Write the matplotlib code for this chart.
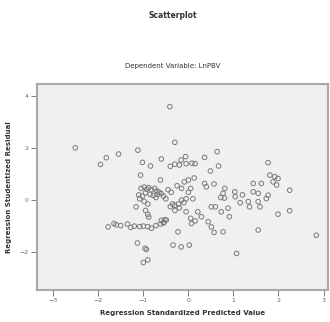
import numpy as np
import matplotlib
matplotlib.use("Agg")
import matplotlib.pyplot as plt

# regression standardized predicted value / studentized residual
pred = [-2.51, -1.95, -1.82, -1.55, -1.12, -1.02, -0.84, -0.60, -1.06, -0.62, -0.41,
        -1.05, -0.98, -0.92, -0.88, -0.82, -0.75, -0.70, -0.65, -0.60, -1.10, -1.02,
        -0.95, -0.85, -0.78, -0.72, -0.68, -0.55, -0.50, -1.08, -0.98, -0.90,
        -1.16, -0.90, -0.88, -0.95,
        -1.78, -1.65, -1.60, -1.50, -1.35, -1.28, -1.20, -1.08, -1.00, -0.90, -0.82,
        -0.72, -0.62, -0.55, -0.60, -0.52,
        -1.13, -0.96, -0.93, -1.00, -0.90,
        -0.30, -0.06, -0.16, -0.40, -0.30, -0.20, -0.05, 0.08, 0.15, 0.36, 0.64, 0.67, 0.49,
        0.13, 0.00, -0.09, 0.36, 0.40, 0.57, 0.81, 0.77, 1.03, 1.04, 0.80, 0.72,
        0.73, 0.88, 0.91, 0.51, 0.60, 0.21, 0.29, 0.44, 0.51, 0.57, 0.77,
        0.10, -0.05, -0.15, -0.10, -0.22, -0.30, -0.35, -0.40, -0.20, -0.30,
        -0.49, -0.55, 0.07, 0.05, 0.15, -0.23, -0.34, -0.16, 0.02, 1.07, 1.55,
        -0.45, -0.38, -0.25, -0.15, 0.00, 0.05, -0.05,
        1.44, 1.62, 1.44, 1.55, 1.33, 1.36, 1.55, 1.59, 1.73, 1.77, 1.77, 1.81, 1.92,
        1.99, 1.88, 1.96, 2.25, 2.25, 1.99, 2.84, 1.20, 1.15]
resid = [2.01, 1.37, 1.63, 1.77, 1.92, 1.45, 1.31, 1.58, 0.96, 0.77, 3.59,
         0.45, 0.50, 0.42, 0.48, 0.40, 0.45, 0.35, 0.30, 0.25, 0.20, 0.15,
         0.28, 0.22, 0.18, 0.10, 0.22, 0.15, 0.05, 0.05, -0.05, -0.15,
         -0.26, -0.55, -0.65, -0.40,
         -1.03, -0.90, -0.95, -0.98, -0.92, -1.05, -1.00, -1.02, -1.00, -1.02, -1.08,
         -0.98, -0.92, -0.88, -0.78, -0.75,
         -1.65, -1.85, -1.90, -2.40, -2.30,
         2.22, 1.67, 1.54, 1.30, 1.38, 1.35, 1.40, 1.42, 1.40, 1.64, 1.86, 1.31, 1.12,
         0.85, 0.77, 0.70, 0.64, 0.51, 0.62, 0.45, 0.26, 0.32, 0.13, 0.08, 0.10,
         -0.45, -0.31, -0.64, -0.26, -0.26, -0.45, -0.64, -0.83, -1.03, -1.24, -1.22,
         0.05, 0.05, 0.00, -0.10, -0.15, -0.20, -0.15, -0.25, -0.30, -0.40,
         -0.77, -0.85, -0.90, -0.70, -0.80, -1.22, -1.73, -1.80, -1.73, -2.05, -1.15,
         0.40, 0.30, 0.55, 0.45, 0.30, 0.45, -0.45,
         0.64, 0.64, 0.32, 0.26, -0.06, -0.26, -0.06, -0.26, 0.06, 0.19, 1.44, 0.96, 0.90,
         0.83, 0.70, 0.58, 0.38, -0.41, -0.54, -1.35, 0.20, -0.10]

x_ticks = [-3, -2, -1, 0, 1, 2, 3]
y_ticks = [-2, 0, 2, 4]

fig = plt.figure(figsize=(3.3, 3.22), dpi=100)
fig.patch.set_facecolor('white')

# plot area position in figure coords
ax = fig.add_axes([0.112, 0.099, 0.882, 0.640])
ax.set_facecolor('#f0f0f0')
ax.scatter(pred, resid, s=11, facecolors='none', edgecolors='#7a7a7a', linewidths=0.7)

ax.set_xlim(-3.36, 3.1)
ax.set_ylim(-3.46, 4.46)
ax.set_xticks(x_ticks)
ax.set_yticks(y_ticks)
ax.tick_params(labelsize=4.5, length=4, width=0.6, colors='#666666', pad=2)
for s in ax.spines.values():
    s.set_color('#a8a8a8')
    s.set_linewidth(1.5)

ax.set_xlabel('Regression Standardized Predicted Value', fontsize=5, fontweight='bold',
              color='#333333', labelpad=5)
ax.set_ylabel('Regression Studentized Residual', fontsize=5, fontweight='bold',
              color='#333333', labelpad=5)

fig.text(0.524, 0.952, 'Scatterplot', ha='center', va='center', fontsize=5.5,
         fontweight='bold', color='#333333')
fig.text(0.524, 0.795, 'Dependent Variable: LnPBV', ha='center', va='center',
         fontsize=5, color='#333333')

fig.savefig('out.png', dpi=100)
